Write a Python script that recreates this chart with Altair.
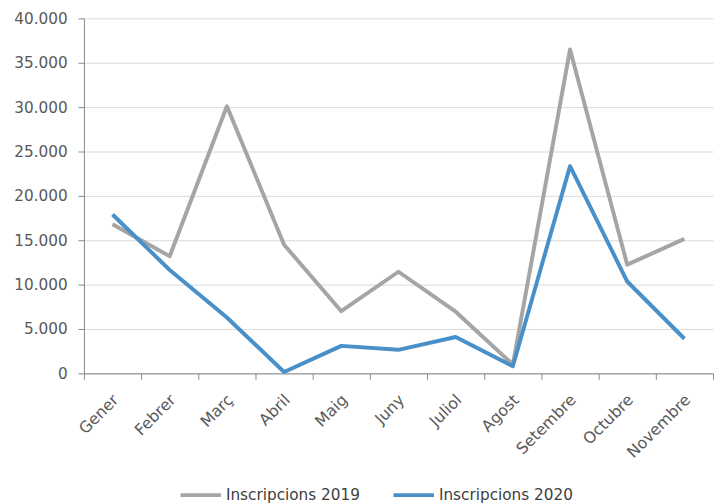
import altair as alt
import pandas as pd

months = ["Gener", "Febrer", "Març", "Abril", "Maig", "Juny", "Juliol",
          "Agost", "Setembre", "Octubre", "Novembre"]
series_names = ["Inscripcions 2019", "Inscripcions 2020"]
values_2019 = [16800, 13200, 30100, 14500, 7000, 11450, 6950, 1000, 36500, 12250, 15150]
values_2020 = [17900, 11650, 6300, 150, 3100, 2650, 4100, 800, 23350, 10350, 3900]
y_ticks = [0, 5000, 10000, 15000, 20000, 25000, 30000, 35000, 40000]
colors = ["#A5A5A5", "#4A90C8"]

rows = []
for m, v in zip(months, values_2019):
    rows.append({"Mes": m, "Serie": series_names[0], "Valor": v})
for m, v in zip(months, values_2020):
    rows.append({"Mes": m, "Serie": series_names[1], "Valor": v})
df = pd.DataFrame(rows)

FONT = "DejaVu Sans"

chart = alt.Chart(df).mark_line(strokeWidth=4, strokeJoin="round", strokeCap="butt").encode(
    x=alt.X("Mes:N", sort=months, title=None,
            scale=alt.Scale(paddingInner=0, paddingOuter=0),
            axis=alt.Axis(labelAngle=-45, labelAlign="right", labelBaseline="middle",
                          tickBand="extent", ticks=True, tickSize=6, tickColor="#868686",
                          domainColor="#868686", labelPadding=18, labelOffset=3,
                          labelFont=FONT, labelFontSize=16, labelColor="#595959",
                          grid=False)),
    y=alt.Y("Valor:Q", title=None,
            scale=alt.Scale(domain=[0, 40000], nice=False),
            axis=alt.Axis(values=y_ticks,
                          labelExpr="replace(format(datum.value, ','), ',', '.')",
                          tickSize=6, tickColor="#868686", domainColor="#868686",
                          gridColor="#D9D9D9", gridWidth=1, labelPadding=11,
                          labelFont=FONT, labelFontSize=15.5, labelColor="#595959")),
    color=alt.Color("Serie:N", title=None,
                    scale=alt.Scale(domain=series_names, range=colors),
                    legend=alt.Legend(orient="none", direction="horizontal",
                                      legendX=96, legendY=461,
                                      symbolType="stroke", symbolSize=1681,
                                      symbolStrokeWidth=4, labelOffset=3,
                                      columnPadding=25, padding=0,
                                      labelFont=FONT, labelFontSize=15.5,
                                      labelColor="#404040")),
).properties(
    width=638, height=360,
    padding={"left": 5, "top": 0, "right": 0, "bottom": 0},
).configure_view(stroke=None)

chart.save("out.html", embed_options={"renderer": "svg", "actions": False})
